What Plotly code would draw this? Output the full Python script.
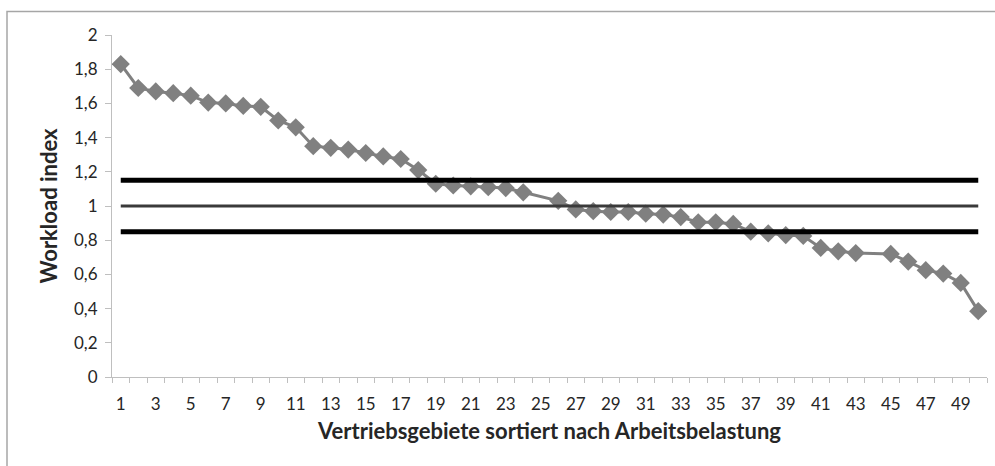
import plotly.graph_objects as go

# Sales territories 1..50, sorted by workload (territories 25 and 44 have no value)
territories = list(range(1, 51))
workload = [
    1.83, 1.69, 1.67, 1.66, 1.645, 1.605, 1.60, 1.585, 1.58, 1.50,
    1.46, 1.35, 1.34, 1.33, 1.31, 1.29, 1.275, 1.21, 1.13, 1.12,
    1.115, 1.11, 1.105, 1.08, None, 1.03, 0.98, 0.97, 0.965, 0.965,
    0.955, 0.95, 0.935, 0.905, 0.905, 0.895, 0.85, 0.84, 0.83, 0.825,
    0.755, 0.735, 0.725, None, 0.72, 0.675, 0.625, 0.605, 0.55, 0.385,
]

# Reference bands: upper limit, target, lower limit
upper_limit = 1.15
target = 1.0
lower_limit = 0.85

y_tick_vals = [0, 0.2, 0.4, 0.6, 0.8, 1.0, 1.2, 1.4, 1.6, 1.8, 2.0]
y_tick_text = ["0", "0,2", "0,4", "0,6", "0,8", "1", "1,2", "1,4", "1,6", "1,8", "2"]
x_tick_vals = list(range(1, 51, 2))
x_tick_text = [str(v) for v in x_tick_vals]
x_minor_ticks = [i + 0.5 for i in range(0, 51)]

FONT = "Lato"
TEXT = "#262626"
AXIS = "#bfbfbf"

fig = go.Figure()

fig.add_trace(go.Scatter(
    x=territories, y=workload, mode="lines+markers", connectgaps=True,
    line=dict(color="#808080", width=3),
    marker=dict(symbol="diamond", size=14, color="#808080"),
    showlegend=False, hoverinfo="x+y",
))

x_ends = [territories[0], territories[-1]]
for level, width, color in [(upper_limit, 5, "#000000"),
                            (target, 3, "#3a3a3a"),
                            (lower_limit, 5, "#000000")]:
    fig.add_trace(go.Scatter(
        x=x_ends, y=[level, level], mode="lines",
        line=dict(color=color, width=width),
        showlegend=False, hoverinfo="skip",
    ))

fig.update_xaxes(
    range=[0.5, 50.5], tickmode="array", tickvals=x_tick_vals, ticktext=x_tick_text,
    ticks="", showgrid=False, zeroline=False,
    showline=True, linecolor=AXIS, linewidth=1,
    minor=dict(tickmode="array", tickvals=x_minor_ticks, ticks="outside",
               ticklen=5, tickcolor=AXIS, showgrid=False),
    ticklabelstandoff=12,
    tickfont=dict(family=FONT, size=17, color=TEXT),
    title=dict(text="<b>Vertriebsgebiete sortiert nach Arbeitsbelastung</b>",
               font=dict(family=FONT, size=22, color=TEXT), standoff=10),
)
fig.update_yaxes(
    range=[0, 2], tickmode="array", tickvals=y_tick_vals, ticktext=y_tick_text,
    ticks="outside", ticklen=6, tickcolor=AXIS, showgrid=False, zeroline=False,
    showline=True, linecolor=AXIS, linewidth=1,
    ticklabelstandoff=4,
    tickfont=dict(family=FONT, size=17, color=TEXT),
    title=dict(text="<b>Workload index</b>",
               font=dict(family=FONT, size=22, color=TEXT), standoff=10),
)

# Chart frame
fig.add_shape(type="rect", xref="paper", yref="paper",
              x0=(7 - 112) / 875, x1=1.05, y0=-0.4, y1=(377 - 11.5) / 342,
              line=dict(color="#a6a6a6", width=1.5), layer="below")

fig.update_layout(
    width=995, height=466,
    margin=dict(l=112, r=8, t=35, b=89),
    paper_bgcolor="white", plot_bgcolor="white",
)

fig.write_html("out.html")
